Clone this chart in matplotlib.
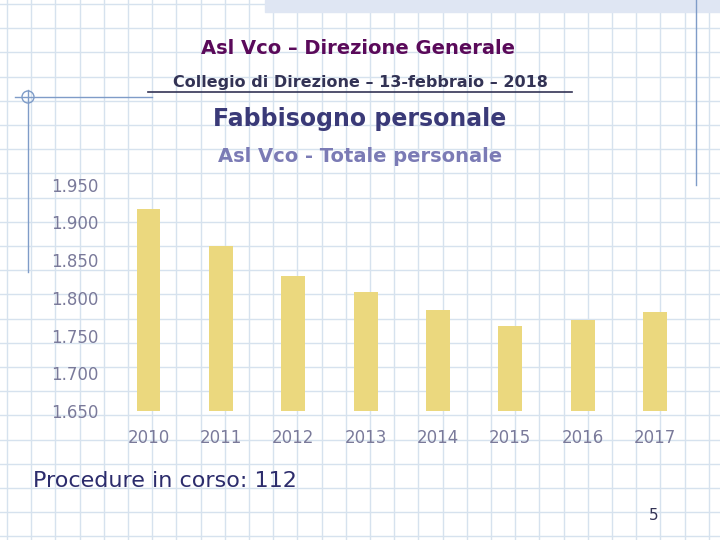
import matplotlib.pyplot as plt
import numpy as np

years = ['2010', '2011', '2012', '2013', '2014', '2015', '2016', '2017']
totale = [1918, 1869, 1829, 1808, 1784, 1762, 1770, 1781]
yticks = [1650, 1700, 1750, 1800, 1850, 1900, 1950]
ytick_labels = ['1.650', '1.700', '1.750', '1.800', '1.850', '1.900', '1.950']

fig = plt.figure(figsize=(7.2, 5.4), dpi=100)

# slide background grid
bg = fig.add_axes([0, 0, 1, 1])
bg.set_xlim(0, 720)
bg.set_ylim(540, 0)
bg.axis('off')
for x in np.arange(7, 720, 24.2):
    bg.axvline(x, color='#d6e2ee', lw=1, zorder=0)
for y in np.arange(4, 540, 24.2):
    bg.axhline(y, color='#d6e2ee', lw=1, zorder=0)
bg.fill_between([265, 720], 0, 12, color='#dfe6f3', zorder=1)
bg.plot([15, 152], [97, 97], color='#7f9cc8', lw=1, zorder=2)
bg.plot([28, 28], [90, 272], color='#7f9cc8', lw=1, zorder=2)
bg.plot([696, 696], [0, 185], color='#7f9cc8', lw=1, zorder=2)
bg.add_patch(plt.Circle((28, 97), 6, fill=False, color='#7f9cc8', lw=1, zorder=2))

bg.text(358, 48, 'Asl Vco – Direzione Generale', ha='center', va='center',
        fontsize=14, color='#5a0a5a', fontweight='bold')
bg.text(360, 82, 'Collegio di Direzione – 13-febbraio – 2018', ha='center', va='center',
        fontsize=11.5, color='#333355', fontweight='bold')
bg.plot([148, 572], [92, 92], color='#333355', lw=1.2)
bg.text(360, 119, 'Fabbisogno personale', ha='center', va='center',
        fontsize=17, color='#3a3a78', fontweight='bold')
bg.text(360, 156, 'Asl Vco - Totale personale', ha='center', va='center',
        fontsize=14, color='#7b7bb5', fontweight='bold')
bg.text(33, 481, 'Procedure in corso: 112', ha='left', va='center',
        fontsize=16, color='#2c2c6c')
bg.text(654, 516, '5', ha='center', va='center', fontsize=11, color='#333355')

ax = fig.add_axes([0.156, 0.239, 0.804, 0.419])
ax.patch.set_alpha(0)
x = np.arange(len(years))
ax.bar(x, [v - 1650 for v in totale], bottom=1650, width=0.33, color='#ebd87e', zorder=3)
ax.set_xlim(-0.5, 7.5)
ax.set_ylim(1650, 1950)
ax.set_yticks(yticks)
ax.set_yticklabels(ytick_labels, ha='left')
ax.set_xticks(x)
ax.set_xticklabels(years)
ax.tick_params(length=0, labelsize=12, colors='#7a7a9a')
ax.tick_params(axis='x', pad=13)
ax.tick_params(axis='y', pad=44)
for s in ax.spines.values():
    s.set_visible(False)

fig.savefig('out.png', dpi=100)
